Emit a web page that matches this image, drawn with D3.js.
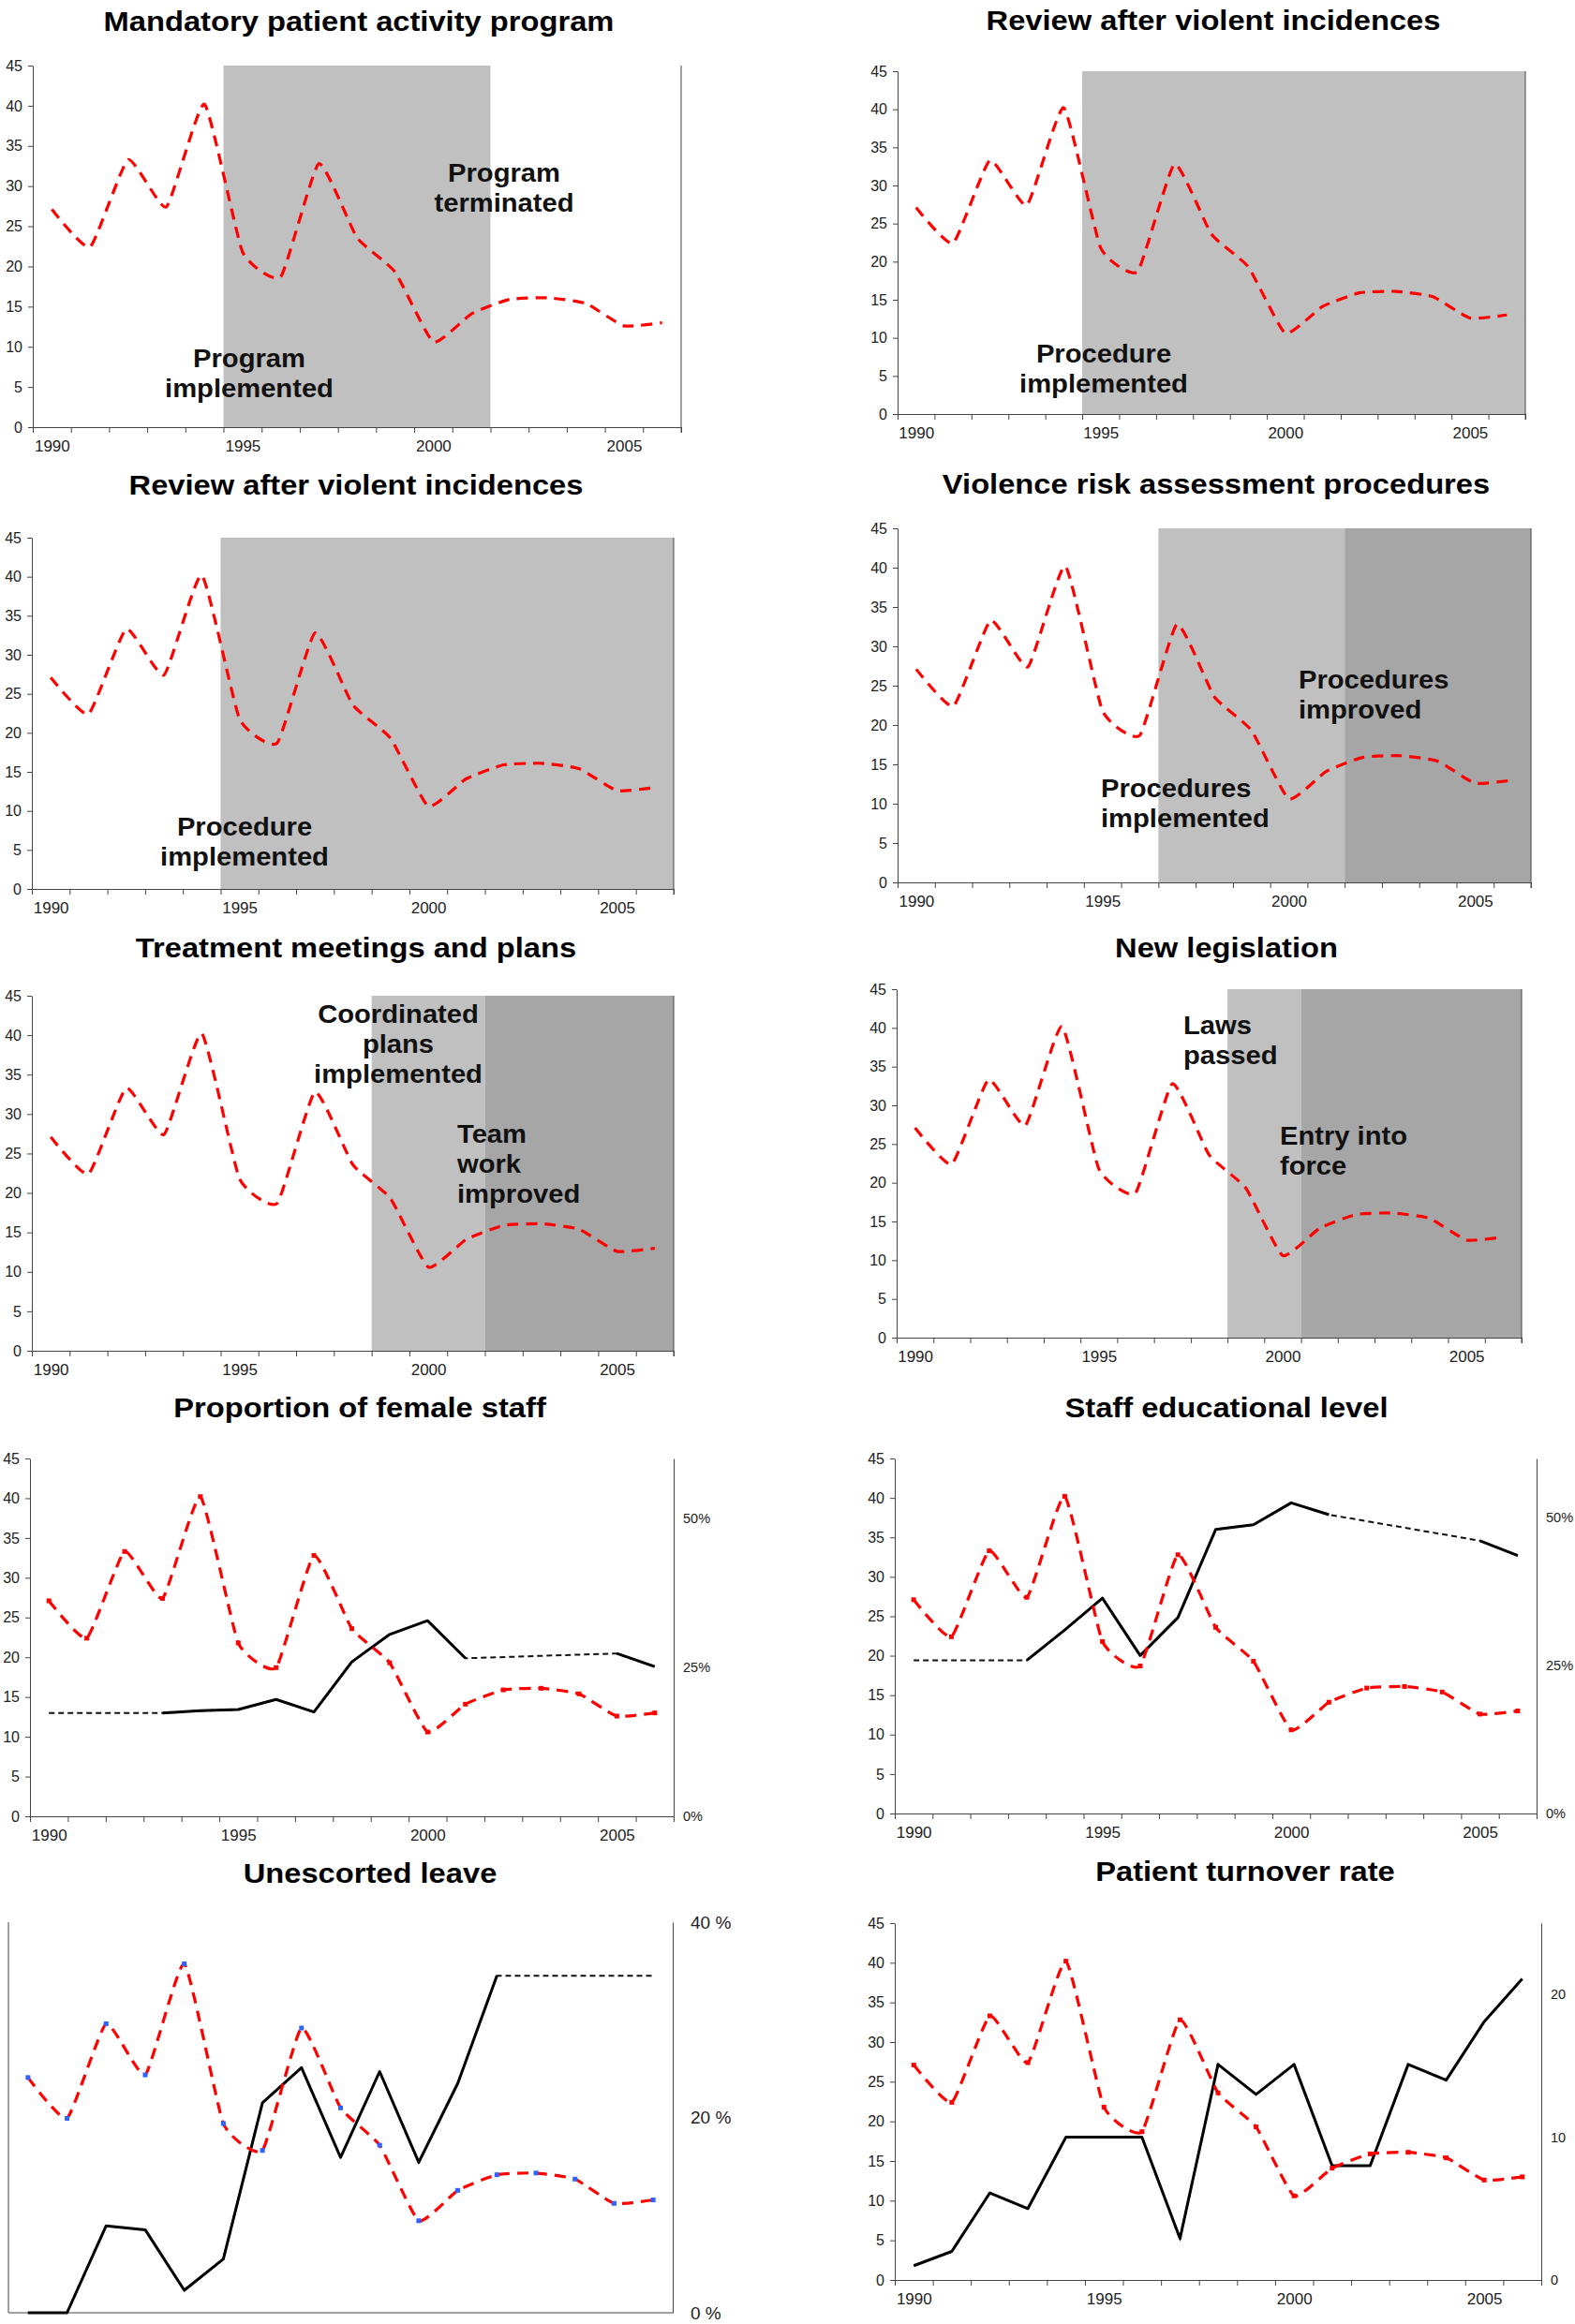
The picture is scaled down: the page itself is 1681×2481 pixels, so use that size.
<!DOCTYPE html>
<html>
<head>
<meta charset="utf-8">
<script src="https://cdn.jsdelivr.net/npm/d3@7"></script>
<style>
  body { margin: 0; background: #fff; }
  text { font-family: "Liberation Sans", Arial, sans-serif; }
</style>
</head>
<body>
<svg id="chart" width="1681" height="2481"></svg>
<script>
// years on the category axis
var years = [1990, 1991, 1992, 1993, 1994, 1995, 1996, 1997, 1998, 1999,
             2000, 2001, 2002, 2003, 2004, 2005, 2006];

// violent incidents (left axis, 0-45)
var violence = [27.1, 22.4, 33.3, 27.4, 40.2, 21.8, 18.7, 32.8, 23.6, 19.3,
                10.6, 14.1, 15.9, 16.1, 15.4, 12.6, 13.0];

// second series, right axis (null = not measured)
var femaleStaff = [null, null, null, 17.3, 17.7, 17.9, 19.6, 17.5, 25.9, 30.5,
                   32.8, 26.5, null, null, null, 27.3, 25.1];
var staffEducation = [null, null, null, 25.9, 31.0, 36.4, 26.7, 33.1, 48.0, 48.8,
                      52.5, 50.5, null, null, null, 46.1, 43.6];
var unescortedLeave = [0, 0, 8.9, 8.5, 2.3, 5.5, 21.5, 25.1, 15.9, 24.7,
                       15.4, 23.5, 34.5, null, null, null, null];
var turnover = [1.0, 2.0, 6.1, 5.0, 10.0, 10.0, 10.0, 2.9, 15.1, 13.0,
                15.1, 8.0, 8.0, 15.1, 14.0, 18.1, 21.1];

// intervention phases, [first year, last year]; first phase light, second dark
var activityProgram = [[1995, 2001]];
var reviewProcedure = [[1995, 2006]];
var riskAssessment = [[1997, 2001], [2002, 2006]];
var treatmentPlans = [[1999, 2001], [2002, 2006]];
var legislation = [[1999, 2000], [2001, 2006]];

var leftTicks = [0, 5, 10, 15, 20, 25, 30, 35, 40, 45];
var yearLabels = [1990, 1995, 2000, 2005];
var percentTicks = [0, 25, 50];
var leaveTicks = [0, 20, 40];
var turnoverTicks = [0, 10, 20];

var svg = d3.select("#chart");
svg.append("rect").attr("width", 1681).attr("height", 2481).attr("fill", "#fff");

var shades = ["#c0c0c0", "#a6a6a6"];
var axisColor = "#444";

var panels = [
  {title: "Mandatory patient activity program", box: [35, 727, 70, 456], tx: 383, ty: 33,
   periods: activityProgram,
   notes: [{lines: ["Program", "terminated"], x: 538, y: 194, anchor: "middle"},
           {lines: ["Program", "implemented"], x: 266, y: 392, anchor: "middle"}]},
  {title: "Review after violent incidences", box: [958, 1628, 76, 442], tx: 1295, ty: 32,
   periods: reviewProcedure,
   notes: [{lines: ["Procedure", "implemented"], x: 1178, y: 387, anchor: "middle"}]},
  {title: "Review after violent incidences", box: [34, 719, 574, 949], tx: 380, ty: 528,
   periods: reviewProcedure,
   notes: [{lines: ["Procedure", "implemented"], x: 261, y: 892, anchor: "middle"}]},
  {title: "Violence risk assessment procedures", box: [958, 1634, 564, 942], tx: 1298, ty: 527,
   periods: riskAssessment,
   notes: [{lines: ["Procedures", "improved"], x: 1386, y: 735, anchor: "start"},
           {lines: ["Procedures", "implemented"], x: 1175, y: 851, anchor: "start"}]},
  {title: "Treatment meetings and plans", box: [34, 719, 1063, 1442], tx: 380, ty: 1022,
   periods: treatmentPlans,
   notes: [{lines: ["Coordinated", "plans", "implemented"], x: 425, y: 1092, anchor: "middle"},
           {lines: ["Team", "work", "improved"], x: 488, y: 1220, anchor: "start"}]},
  {title: "New legislation", box: [957, 1624, 1056, 1428], tx: 1309, ty: 1022,
   periods: legislation,
   notes: [{lines: ["Laws", "passed"], x: 1263, y: 1104, anchor: "start"},
           {lines: ["Entry into", "force"], x: 1366, y: 1222, anchor: "start"}]},
  {title: "Proportion of female staff", box: [32, 719, 1557, 1939], tx: 384, ty: 1513,
   second: femaleStaff, secondMax: 60, secondTicks: percentTicks,
   secondFormat: function(d) { return d + "%"; }, markColor: "#ff0000"},
  {title: "Staff educational level", box: [955, 1640, 1557, 1936], tx: 1309, ty: 1513,
   second: staffEducation, secondMax: 60, secondTicks: percentTicks,
   secondFormat: function(d) { return d + "%"; }, markColor: "#ff0000"},
  {title: "Unescorted leave", box: [9, 718, 2052, 2469], tx: 395, ty: 2010, bare: true,
   second: unescortedLeave, secondMax: 40, secondTicks: leaveTicks,
   secondFormat: function(d) { return d + " %"; }, markColor: "#2f62ff", bigRight: true},
  {title: "Patient turnover rate", box: [955, 1645, 2053, 2434], tx: 1329, ty: 2008,
   second: turnover, secondMax: 25, secondTicks: turnoverTicks,
   secondFormat: d3.format("d"), markColor: "#ff0000"}
];

panels.forEach(drawPanel);

// text slightly wider than the installed font, like the original export
function wideText(g, x, y, size, sx) {
  return g.append("text")
    .attr("transform", "translate(" + x + "," + y + ") scale(" + sx + ",1)")
    .attr("font-size", size).attr("font-weight", "bold").attr("fill", "#000");
}

function drawPanel(p) {
  var g = svg.append("g");
  var x = d3.scaleLinear().domain([1989.5, 2006.5]).range([p.box[0], p.box[1]]);
  var y = d3.scaleLinear().domain([0, 45]).range([p.box[3], p.box[2]]);

  // shaded phases
  (p.periods || []).forEach(function(pr, i) {
    g.append("rect")
      .attr("x", x(pr[0] - 0.5))
      .attr("width", x(pr[1] + 0.5) - x(pr[0] - 0.5))
      .attr("y", y(45))
      .attr("height", y(0) - y(45))
      .attr("fill", shades[i]);
  });

  if (!p.bare) {
    var yAxis = g.append("g").attr("transform", "translate(" + p.box[0] + ",0)")
      .call(d3.axisLeft(y).tickValues(leftTicks).tickSize(5).tickSizeOuter(0).tickPadding(6));
    yAxis.selectAll("text").attr("font-size", 16).attr("fill", "#222");

    g.append("g").attr("transform", "translate(0," + p.box[3] + ")")
      .call(d3.axisBottom(x).tickValues(d3.range(1989.5, 2007, 1)).tickSize(6)
        .tickSizeOuter(0).tickFormat(""));
    var xLab = g.append("g").attr("transform", "translate(0," + p.box[3] + ")")
      .call(d3.axisBottom(x).tickValues(yearLabels).tickSize(0).tickPadding(14)
        .tickFormat(d3.format("d")));
    xLab.select(".domain").remove();
    xLab.selectAll("text").attr("font-size", 17).attr("fill", "#222");
  } else {
    g.append("line").attr("x1", p.box[0]).attr("x2", p.box[0])
      .attr("y1", y(45)).attr("y2", y(0));
    g.append("line").attr("x1", p.box[0]).attr("x2", p.box[1])
      .attr("y1", y(0)).attr("y2", y(0));
  }

  var y2 = null;
  if (p.second) {
    y2 = d3.scaleLinear().domain([0, p.secondMax]).range([p.box[3], p.box[2]]);
    var rAxis = g.append("g").attr("transform", "translate(" + p.box[1] + ",0)")
      .call(d3.axisRight(y2).tickValues(p.secondTicks).tickSize(0)
        .tickPadding(p.bigRight ? 19 : 10).tickFormat(p.secondFormat));
    rAxis.selectAll("text").attr("font-size", p.bigRight ? 19 : 14.5).attr("fill", "#222");
  } else {
    g.append("line").attr("x1", p.box[1]).attr("x2", p.box[1])
      .attr("y1", y(45)).attr("y2", y(0) + 6);
  }
  g.selectAll(".domain, .tick line, line").attr("stroke", axisColor);

  // second series: dashed bridge over gaps, solid over measured years
  if (p.second) {
    var known = [];
    p.second.forEach(function(v, i) { if (v != null) known.push([years[i], v]); });
    if (known[0][0] > years[0]) known.unshift([years[0], known[0][1]]);
    var last = known[known.length - 1];
    if (last[0] < years[years.length - 1]) known.push([years[years.length - 1], last[1]]);

    g.append("path")
      .attr("d", d3.line().x(function(d) { return x(d[0]); }).y(function(d) { return y2(d[1]); })(known))
      .attr("fill", "none").attr("stroke", "#111").attr("stroke-width", 2)
      .attr("stroke-dasharray", "6,4");

    g.append("path")
      .attr("d", d3.line()
        .defined(function(d) { return d != null; })
        .x(function(d, i) { return x(years[i]); })
        .y(function(d) { return y2(d); })(p.second))
      .attr("fill", "none").attr("stroke", "#000").attr("stroke-width", 3)
      .attr("stroke-linejoin", "round");
  }

  // violent incidents
  g.append("path")
    .attr("d", d3.line()
      .x(function(d, i) { return x(years[i]); })
      .y(function(d) { return y(d); })
      .curve(d3.curveCardinal.tension(0.55))(violence))
    .attr("fill", "none").attr("stroke", "#ff0000").attr("stroke-width", 3.2)
    .attr("stroke-dasharray", "12,8");

  if (p.markColor) {
    g.selectAll(".mk").data(violence).enter().append("rect")
      .attr("x", function(d, i) { return x(years[i]) - 2.5; })
      .attr("y", function(d) { return y(d) - 2.5; })
      .attr("width", 5).attr("height", 5)
      .attr("fill", p.markColor);
  }

  // annotations
  (p.notes || []).forEach(function(n) {
    var t = wideText(g, n.x, n.y, 27, 1.08).attr("text-anchor", n.anchor).attr("fill", "#111");
    n.lines.forEach(function(l, k) {
      t.append("tspan").attr("x", 0).attr("dy", k ? 32 : 0).text(l);
    });
  });

  wideText(g, p.tx, p.ty, 30, 1.09).attr("text-anchor", "middle").text(p.title);
}
</script>
</body>
</html>
